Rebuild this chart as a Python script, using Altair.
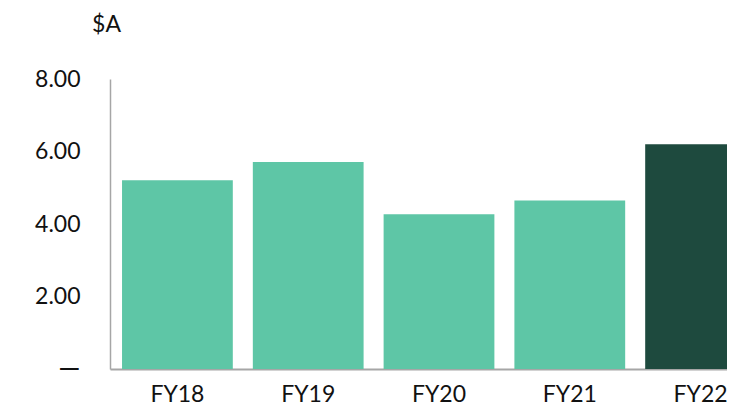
import altair as alt
import pandas as pd

categories = ["FY18", "FY19", "FY20", "FY21", "FY22"]
values = [5.21, 5.71, 4.27, 4.65, 6.20]
groups = ["past", "past", "past", "past", "current"]

df = pd.DataFrame({"year": categories, "value": values, "group": groups})

FONT = "Lato"

chart = alt.Chart(df).mark_bar().encode(
    x=alt.X(
        "year:N",
        sort=categories,
        scale=alt.Scale(range=[0, 658], paddingInner=0.153, paddingOuter=0.092),
        axis=alt.Axis(
            title=None, labelAngle=0, ticks=False, labelPadding=14,
            labelFontSize=23, labelFont=FONT, labelColor="#111111",
            domainColor="#a6a6a6", domainWidth=2,
        ),
    ),
    y=alt.Y(
        "value:Q",
        scale=alt.Scale(domain=[0, 8], nice=False),
        axis=alt.Axis(
            values=[0, 2, 4, 6, 8], grid=False, ticks=False, labelPadding=30,
            labelExpr="datum.value == 0 ? '\u2014' : format(datum.value, '.2f')",
            labelFontSize={"condition": {"test": "datum.value === 0", "value": 28}, "value": 23},
            labelFont=FONT, labelColor="#111111",
            domainColor="#a6a6a6", domainWidth=1.5,
            title="$A", titleAngle=0, titleAlign="center", titleBaseline="alphabetic",
            titleX=-4, titleY=-48, titleFont=FONT, titleFontSize=23,
            titleFontWeight="normal", titleColor="#111111",
        ),
    ),
    color=alt.Color(
        "group:N",
        scale=alt.Scale(domain=["past", "current"], range=["#5EC6A6", "#1E4A3E"]),
        legend=None,
    ),
).properties(
    width=617,
    height=290,
    autosize="none",
    padding={"left": 102, "top": 71, "right": 0, "bottom": 38},
).configure_view(stroke=None)

chart.save("out.html", embed_options={"renderer": "svg", "actions": False})
